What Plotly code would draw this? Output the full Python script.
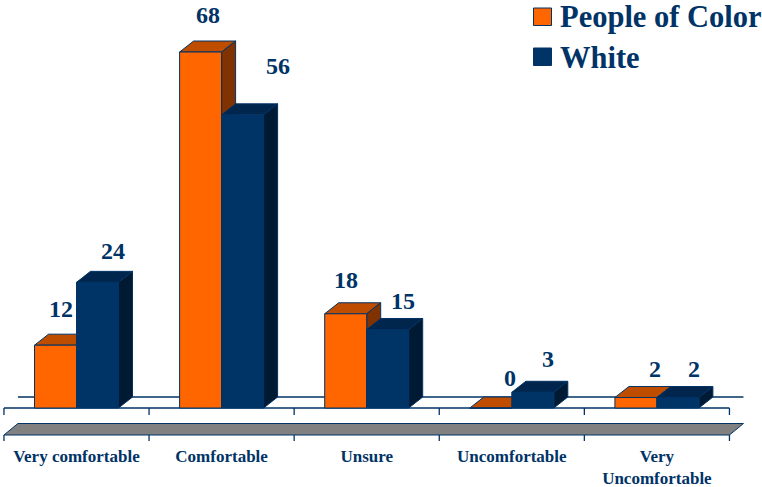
import numpy as np
import plotly.graph_objects as go

categories = ["Very comfortable", "Comfortable", "Unsure", "Uncomfortable", "Very<br>Uncomfortable"]
people_of_color = [12, 68, 18, 0, 2]
white = [24, 56, 15, 3, 2]
series_names = ["People of Color", "White"]

# layout constants (pixel geometry of the 762x487 canvas)
W, H = 762, 487
X0, XS = 76.5, 145.1
Y0, YS = 408, 5.235
BW = 42 / XS
DX, DY = 14 / XS, 11 / YS
NAVY = "#003366"
FONT = "Liberation Serif"
colors = [("#FF6600", "#BF4D00", "#803300"), ("#003366", "#00264D", "#001A33")]
label_shift = [[(5, 36), (7, 37), (0, 34), (19, 30), (19, 29)],
               [(15, 31), (35, 49), (15, 28), (15, 33), (16, 29)]]

fig = go.Figure()


def py(px):
    return (Y0 - px) / YS


def poly(xs, ys, fill, z):
    fig.add_trace(go.Scatter(x=xs, y=ys, mode="lines", fill="toself", fillcolor=fill,
                             line=dict(color=NAVY, width=1), hoverinfo="skip",
                             showlegend=False, zorder=z))


def seg(xs, ys, z=0):
    fig.add_trace(go.Scatter(x=xs, y=ys, mode="lines", line=dict(color=NAVY, width=1.3),
                             hoverinfo="skip", showlegend=False, zorder=z))


edges = np.arange(len(categories) + 1) - 0.5
# floor lines and ticks
seg([edges[0] + DX, edges[-1] + DX], [DY, DY])
seg([edges[0], edges[-1]], [0, 0])
band_lo, band_hi = py(435), py(423.5)
poly([edges[0], edges[0] + DX, edges[-1] + DX, edges[-1], edges[0]],
     [band_lo, band_hi, band_hi, band_lo, band_lo], "#808080", 0)
for e in edges:
    seg([e, e], [0, py(415)])
    seg([e, e], [band_lo, py(441)])

x = np.arange(len(categories))
for s, (name, vals) in enumerate(zip(series_names, [people_of_color, white])):
    face, top, side = colors[s]
    off = -BW if s == 0 else 0
    z = 1 + 2 * s
    for i, v in enumerate(vals):
        l, r = i + off, i + off + BW
        poly([l, l + DX, r + DX, r, l], [v, v + DY, v + DY, v, v], top, z)
        if v > 0:
            poly([r, r + DX, r + DX, r, r], [0, DY, v + DY, v, 0], side, z)
    fig.add_trace(go.Bar(x=x, y=vals, width=BW, offset=off, name=name,
                         marker=dict(color=face, line=dict(color=NAVY, width=1)),
                         showlegend=False, zorder=z + 1))
    for i, v in enumerate(vals):
        sx, sy = label_shift[s][i]
        fig.add_annotation(x=i + off + BW / 2, y=v, text=f"<b>{v}</b>", showarrow=False,
                           xshift=sx, yshift=sy, font=dict(family=FONT, size=24, color=NAVY))
    # legend
    fig.add_shape(type="rect", xref="paper", yref="paper",
                  x0=533.5 / W, x1=551.5 / W,
                  y0=1 - (25.5 + 40 * s) / H, y1=1 - (8 + 40 * s) / H,
                  fillcolor=face, line=dict(color=NAVY, width=1))
    fig.add_annotation(xref="paper", yref="paper", x=558 / W, y=1 - (17 + 40.5 * s) / H,
                       xanchor="left", yanchor="middle", showarrow=False, text=f"<b>{name}</b>",
                       font=dict(family=FONT, size=30.5, color=NAVY))

fig.update_layout(
    width=W, height=H, margin=dict(l=0, r=0, t=0, b=0),
    paper_bgcolor="white", plot_bgcolor="white", barmode="overlay", showlegend=False,
    xaxis=dict(range=[-X0 / XS, (W - X0) / XS], domain=[0, 1], tickmode="array",
               tickvals=list(x), ticktext=[f"<b>{c}</b>" for c in categories],
               showgrid=False, zeroline=False, showline=False, ticks="", anchor="free",
               position=(H - 444) / H, tickfont=dict(family=FONT, size=17, color=NAVY)),
    yaxis=dict(range=[py(H), py(0)], domain=[0, 1], visible=False),
)
fig.write_html("out.html", config={"displayModeBar": False},
               post_script="document.body.style.margin='0';document.body.style.overflow='hidden';")
